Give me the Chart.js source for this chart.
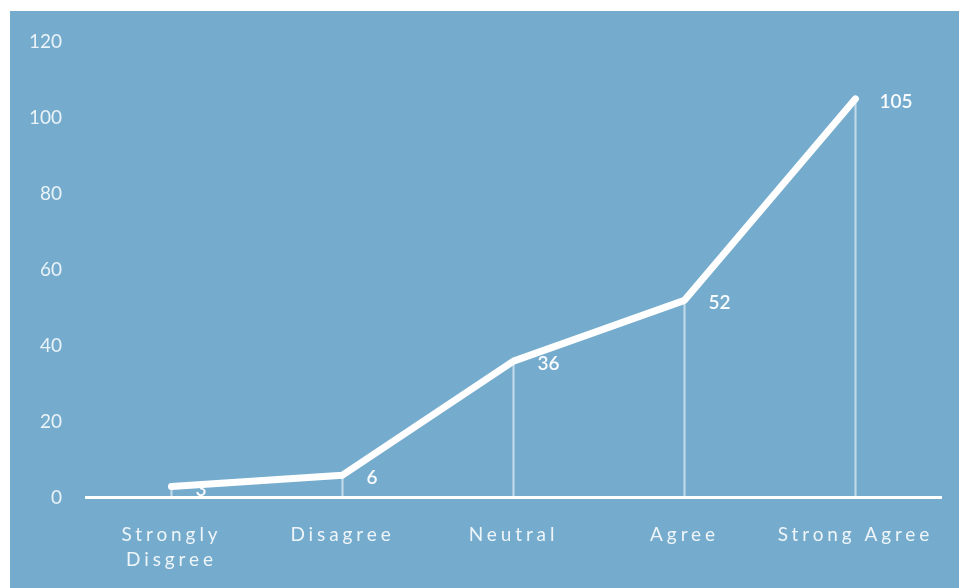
<!DOCTYPE html>
<html>
<head>
<meta charset="utf-8">
<script src="https://cdn.jsdelivr.net/npm/chart.js@4/dist/chart.umd.min.js"></script>
<style>
  html, body { margin: 0; padding: 0; background: #ffffff; }
  #panel { position: absolute; left: 10px; top: 11px; width: 949px; height: 577px; background: #75accd; }
  canvas { display: block; }
</style>
</head>
<body>
<div id="panel"><canvas id="c" width="949" height="577"></canvas></div>
<script>
const categories = [['Strongly', 'Disgree'], 'Disagree', 'Neutral', 'Agree', 'Strong Agree'];
const responses = [3, 6, 36, 52, 105];
const yTicks = [0, 20, 40, 60, 80, 100, 120];

const spacingPlugin = {
  id: 'spacing',
  beforeDraw(chart) { chart.ctx.letterSpacing = '3.9px'; },
  beforeDatasetsDraw(chart) { chart.ctx.letterSpacing = '0px'; }
};

const labelPlugin = {
  id: 'valueLabels',
  afterDatasetsDraw(chart) {
    const meta = chart.getDatasetMeta(1);
    const ctx = chart.ctx;
    ctx.save();
    ctx.letterSpacing = '0px';
    ctx.fillStyle = 'rgba(255,255,255,0.95)';
    ctx.font = '600 19px Lato, "Open Sans", sans-serif';
    ctx.textAlign = 'left';
    ctx.textBaseline = 'middle';
    meta.data.forEach((pt, i) => {
      ctx.fillText(String(responses[i]), pt.x + 24, pt.y + 3);
    });
    ctx.restore();
    ctx.letterSpacing = '0px';
  }
};

new Chart(document.getElementById('c'), {
  data: {
    labels: categories,
    datasets: [
      {
        type: 'bar',
        data: responses,
        backgroundColor: 'rgba(255,255,255,0.55)',
        borderWidth: 0,
        barThickness: 1.5,
        order: 2
      },
      {
        type: 'line',
        data: responses,
        borderColor: '#ffffff',
        borderWidth: 7,
        pointRadius: 0,
        tension: 0,
        borderCapStyle: 'round',
        borderJoinStyle: 'round',
        order: 1
      }
    ]
  },
  options: {
    responsive: false,
    animation: false,
    events: [],
    layout: { padding: { top: 20, right: 18, bottom: 0, left: 0 } },
    plugins: { legend: { display: false }, tooltip: { enabled: false } },
    scales: {
      x: {
        offset: true,
        grid: { display: false, drawTicks: false },
        border: { display: true, color: '#ffffff', width: 3 },
        afterFit(axis) { axis.height = 90; },
        ticks: {
          color: 'rgba(255,255,255,0.88)',
          font: { family: 'Lato, "Open Sans", sans-serif', size: 19, lineHeight: 1.32 },
          padding: 24,
          maxRotation: 0,
          autoSkip: false
        }
      },
      y: {
        min: 0,
        max: 120,
        grid: { display: false, drawTicks: false },
        border: { display: false },
        afterFit(axis) { axis.width = 76; },
        afterBuildTicks(axis) { axis.ticks = yTicks.map(v => ({ value: v })); },
        ticks: {
          z: 1,
          color: 'rgba(255,255,255,0.85)',
          font: { family: 'Lato, "Open Sans", sans-serif', size: 19, lineHeight: 0.72 },
          padding: 24
        }
      }
    }
  },
  plugins: [spacingPlugin, labelPlugin]
});
</script>
</body>
</html>
